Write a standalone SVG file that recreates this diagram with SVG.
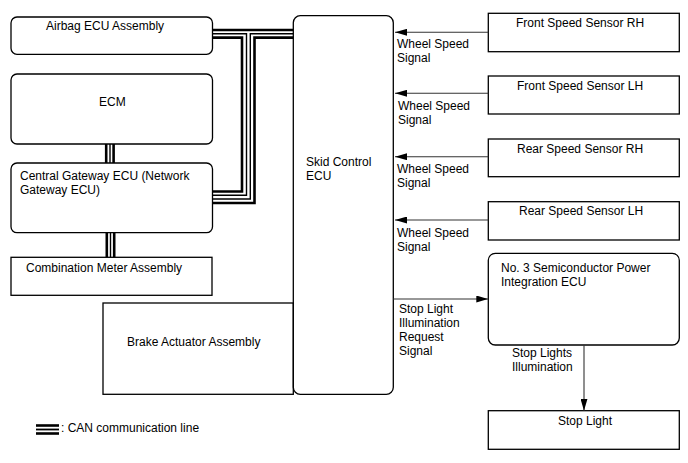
<svg xmlns="http://www.w3.org/2000/svg" width="688" height="463" viewBox="0 0 688 463">
<style>
.box{fill:none;stroke:#000;stroke-width:1.3}
text{font-family:"Liberation Sans",Arial,sans-serif;font-size:12px;fill:#000}
.thk{fill:none;stroke:#000;stroke-width:2.6}
.thn{fill:none;stroke:#000;stroke-width:1.4}
.arr{fill:none;stroke:#333;stroke-width:1.1}
</style>
<defs>
<marker id="ah" markerWidth="12" markerHeight="7" refX="12" refY="3.5" orient="auto" markerUnits="userSpaceOnUse">
<path d="M0,0 L12,3.5 L0,7 Z" fill="#000"/>
</marker>
</defs>
<rect width="688" height="463" fill="#fff"/>

<g id="airbag"><rect class="box" x="11" y="17" width="201.5" height="37.3" rx="6"/><text x="46" y="30">Airbag ECU Assembly</text></g>
<g id="ecm"><rect class="box" x="11" y="74" width="201.5" height="70" rx="6"/><text x="99" y="106">ECM</text></g>
<g id="gateway"><rect class="box" x="11" y="163" width="201.5" height="69.7" rx="6"/><text x="20" y="180">Central Gateway ECU (Network</text><text x="20" y="194">Gateway ECU)</text></g>
<g id="combination"><rect class="box" x="11" y="257.3" width="201" height="38"/><text x="26" y="272">Combination Meter Assembly</text></g>
<g id="brake"><rect class="box" x="103" y="303" width="190.3" height="91.3"/><text x="127" y="346">Brake Actuator Assembly</text></g>
<g id="skid"><rect class="box" x="293.3" y="15.7" width="100" height="378.6" rx="7"/><text x="306" y="166">Skid Control</text><text x="306" y="180">ECU</text></g>
<g id="fsrh"><rect class="box" x="488.3" y="13.3" width="191" height="38.4"/><text x="516" y="27">Front Speed Sensor RH</text></g>
<g id="fslh"><rect class="box" x="488.3" y="76" width="191" height="38"/><text x="517" y="90">Front Speed Sensor LH</text></g>
<g id="rsrh"><rect class="box" x="488.3" y="139" width="191" height="37.7"/><text x="517" y="153">Rear Speed Sensor RH</text></g>
<g id="rslh"><rect class="box" x="488.3" y="201.7" width="191" height="38.3"/><text x="519" y="215">Rear Speed Sensor LH</text></g>
<g id="spi"><rect class="box" x="488.3" y="253.3" width="191" height="91.7" rx="7"/><text x="501" y="272">No. 3 Semiconductor Power</text><text x="501" y="286">Integration ECU</text></g>
<g id="stoplight"><rect class="box" x="488.3" y="410.7" width="191" height="38.6"/><text x="558" y="425">Stop Light</text></g>

<g id="connectors">
<!-- CAN: Airbag - Skid - Gateway -->
<path class="thk" d="M212.5,30 H293.3"/>
<path class="thn" d="M212.5,33.8 H246.5 V195.3 H212.5"/>
<path class="thn" d="M293.3,33.8 H250.3 V199 H212.5"/>
<path class="thk" d="M212.5,37.6 H242 V191.5 H212.5"/>
<path class="thk" d="M293.3,37.6 H254.5 V203 H212.5"/>
<!-- CAN: ECM - Gateway -->
<path class="thk" d="M106.2,144 V163"/>
<path class="thn" d="M110,144 V163"/>
<path class="thk" d="M113.6,144 V163"/>
<!-- CAN: Gateway - Combination -->
<path class="thk" d="M106.8,232.7 V257.3"/>
<path class="thn" d="M110.5,232.7 V257.3"/>
<path class="thk" d="M114.2,232.7 V257.3"/>
<!-- Wheel speed signals -->
<path class="arr" d="M488.3,32.3 H395" marker-end="url(#ah)"/>
<path class="arr" d="M488.3,93.3 H395" marker-end="url(#ah)"/>
<path class="arr" d="M488.3,156.7 H395" marker-end="url(#ah)"/>
<path class="arr" d="M488.3,220 H395" marker-end="url(#ah)"/>
<text x="397" y="48">Wheel Speed</text><text x="397" y="62">Signal</text>
<text x="398" y="110">Wheel Speed</text><text x="398" y="124">Signal</text>
<text x="397" y="173">Wheel Speed</text><text x="397" y="187">Signal</text>
<text x="397" y="237">Wheel Speed</text><text x="397" y="251">Signal</text>
<!-- Stop light request -->
<path class="arr" d="M393.3,299 H488.3" marker-end="url(#ah)"/>
<text x="399" y="313">Stop Light</text><text x="399" y="327">Illumination</text><text x="399" y="341">Request</text><text x="399" y="355">Signal</text>
<!-- Stop lights illumination -->
<path class="arr" d="M584,345 V410.7" marker-end="url(#ah)"/>
<text x="512" y="357">Stop Lights</text><text x="512" y="371">Illumination</text>
</g>

<g id="legend">
<path class="thk" d="M36,425.5 H59"/>
<path class="thk" d="M36,429.5 H59" style="stroke-width:1.8"/>
<path class="thk" d="M36,433.5 H59"/>
<text x="61" y="432">: CAN communication line</text>
</g>
</svg>
